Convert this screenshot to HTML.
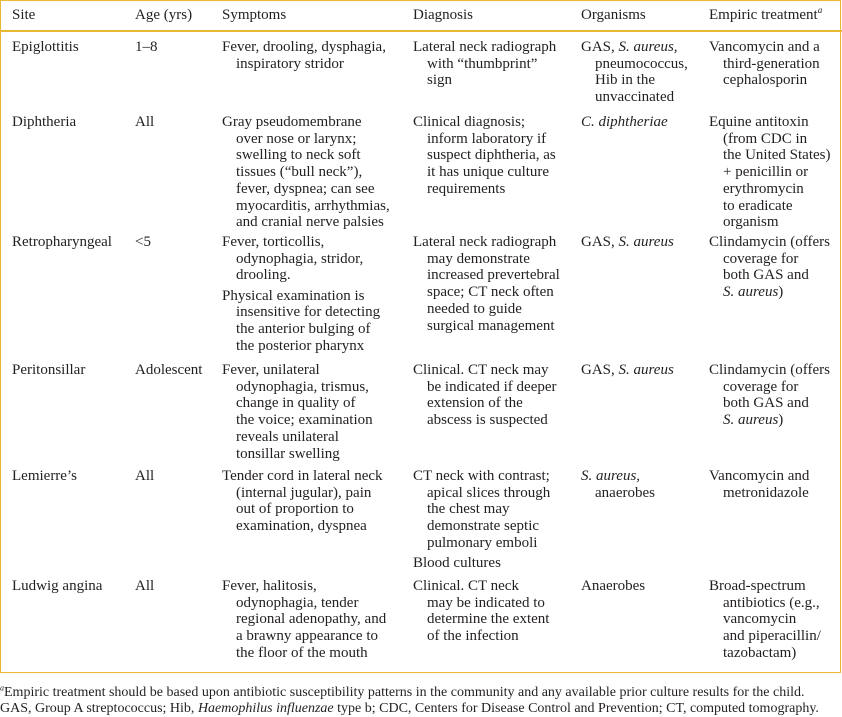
<!DOCTYPE html>
<html><head><meta charset="utf-8"><style>
body{margin:0;width:842px;height:715px;background:#fff;position:relative;overflow:hidden;font-family:"Liberation Serif",serif;color:#231f20;}
.box{position:absolute;left:0;top:0;width:839px;height:671px;border:1.5px solid #e8b830;}
.hl{position:absolute;left:0;top:30px;width:842px;height:2px;background:#e8b830;}
.c{position:absolute;font-size:15px;line-height:16.7px;white-space:nowrap;}
.c div{padding-left:14px;}
.c div.f{padding-left:0;}
.c div.p{padding-left:0;margin-top:3.5px;}
.fn{position:absolute;left:0;font-size:14px;line-height:17px;white-space:nowrap;}
sup{line-height:0;}
</style></head><body>
<div class="box"></div><div class="hl"></div>
<div class="c" style="left:12px;top:7px">Site</div>
<div class="c" style="left:135px;top:7px">Age (yrs)</div>
<div class="c" style="left:222px;top:7px">Symptoms</div>
<div class="c" style="left:413px;top:7px">Diagnosis</div>
<div class="c" style="left:581px;top:7px">Organisms</div>
<div class="c" style="left:709px;top:7px">Empiric treatment<sup style="font-size:9px"><i>a</i></sup></div>

<div class="c" style="left:12px;top:39px">Epiglottitis</div>
<div class="c" style="left:135px;top:39px">1–8</div>
<div class="c" style="left:222px;top:39px"><div class="f">Fever, drooling, dysphagia,</div><div>inspiratory stridor</div></div>
<div class="c" style="left:413px;top:39px"><div class="f">Lateral neck radiograph</div><div>with “thumbprint”</div><div>sign</div></div>
<div class="c" style="left:581px;top:39px"><div class="f">GAS, <i>S. aureus,</i></div><div>pneumococcus,</div><div>Hib in the</div><div>unvaccinated</div></div>
<div class="c" style="left:709px;top:39px"><div class="f">Vancomycin and a</div><div>third-generation</div><div>cephalosporin</div></div>

<div class="c" style="left:12px;top:114px">Diphtheria</div>
<div class="c" style="left:135px;top:114px">All</div>
<div class="c" style="left:222px;top:114px"><div class="f">Gray pseudomembrane</div><div>over nose or larynx;</div><div>swelling to neck soft</div><div>tissues (“bull neck”),</div><div>fever, dyspnea; can see</div><div>myocarditis, arrhythmias,</div><div>and cranial nerve palsies</div></div>
<div class="c" style="left:413px;top:114px"><div class="f">Clinical diagnosis;</div><div>inform laboratory if</div><div>suspect diphtheria, as</div><div>it has unique culture</div><div>requirements</div></div>
<div class="c" style="left:581px;top:114px"><i>C. diphtheriae</i></div>
<div class="c" style="left:709px;top:114px"><div class="f">Equine antitoxin</div><div>(from CDC in</div><div>the United States)</div><div>+ penicillin or</div><div>erythromycin</div><div>to eradicate</div><div>organism</div></div>

<div class="c" style="left:12px;top:234px">Retropharyngeal</div>
<div class="c" style="left:135px;top:234px">&lt;5</div>
<div class="c" style="left:222px;top:234px"><div class="f">Fever, torticollis,</div><div>odynophagia, stridor,</div><div>drooling.</div><div class="p">Physical examination is</div><div>insensitive for detecting</div><div>the anterior bulging of</div><div>the posterior pharynx</div></div>
<div class="c" style="left:413px;top:234px"><div class="f">Lateral neck radiograph</div><div>may demonstrate</div><div>increased prevertebral</div><div>space; CT neck often</div><div>needed to guide</div><div>surgical management</div></div>
<div class="c" style="left:581px;top:234px">GAS, <i>S. aureus</i></div>
<div class="c" style="left:709px;top:234px"><div class="f">Clindamycin (offers</div><div>coverage for</div><div>both GAS and</div><div><i>S. aureus</i>)</div></div>

<div class="c" style="left:12px;top:362px">Peritonsillar</div>
<div class="c" style="left:135px;top:362px">Adolescent</div>
<div class="c" style="left:222px;top:362px"><div class="f">Fever, unilateral</div><div>odynophagia, trismus,</div><div>change in quality of</div><div>the voice; examination</div><div>reveals unilateral</div><div>tonsillar swelling</div></div>
<div class="c" style="left:413px;top:362px"><div class="f">Clinical. CT neck may</div><div>be indicated if deeper</div><div>extension of the</div><div>abscess is suspected</div></div>
<div class="c" style="left:581px;top:362px">GAS, <i>S. aureus</i></div>
<div class="c" style="left:709px;top:362px"><div class="f">Clindamycin (offers</div><div>coverage for</div><div>both GAS and</div><div><i>S. aureus</i>)</div></div>

<div class="c" style="left:12px;top:468px">Lemierre’s</div>
<div class="c" style="left:135px;top:468px">All</div>
<div class="c" style="left:222px;top:468px"><div class="f">Tender cord in lateral neck</div><div>(internal jugular), pain</div><div>out of proportion to</div><div>examination, dyspnea</div></div>
<div class="c" style="left:413px;top:468px"><div class="f">CT neck with contrast;</div><div>apical slices through</div><div>the chest may</div><div>demonstrate septic</div><div>pulmonary emboli</div><div class="p">Blood cultures</div></div>
<div class="c" style="left:581px;top:468px"><div class="f"><i>S. aureus,</i></div><div>anaerobes</div></div>
<div class="c" style="left:709px;top:468px"><div class="f">Vancomycin and</div><div>metronidazole</div></div>

<div class="c" style="left:12px;top:578px">Ludwig angina</div>
<div class="c" style="left:135px;top:578px">All</div>
<div class="c" style="left:222px;top:578px"><div class="f">Fever, halitosis,</div><div>odynophagia, tender</div><div>regional adenopathy, and</div><div>a brawny appearance to</div><div>the floor of the mouth</div></div>
<div class="c" style="left:413px;top:578px"><div class="f">Clinical. CT neck</div><div>may be indicated to</div><div>determine the extent</div><div>of the infection</div></div>
<div class="c" style="left:581px;top:578px">Anaerobes</div>
<div class="c" style="left:709px;top:578px"><div class="f">Broad-spectrum</div><div>antibiotics (e.g.,</div><div>vancomycin</div><div>and piperacillin/</div><div>tazobactam)</div></div>

<div class="fn" style="top:684px"><sup style="font-size:8px"><i>a</i></sup>Empiric treatment should be based upon antibiotic susceptibility patterns in the community and any available prior culture results for the child.</div>
<div class="fn" style="top:700px">GAS, Group A streptococcus; Hib, <i>Haemophilus influenzae</i> type b; CDC, Centers for Disease Control and Prevention; CT, computed tomography.</div>
</body></html>
